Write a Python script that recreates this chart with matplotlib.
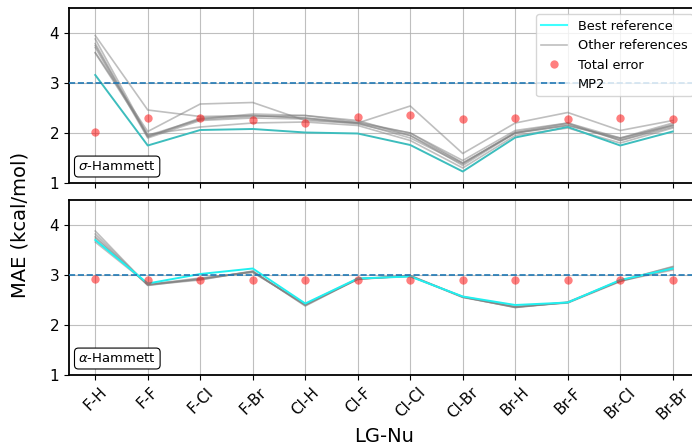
import matplotlib
matplotlib.use("Agg")
import matplotlib.pyplot as plt
from matplotlib.lines import Line2D
import numpy as np

categories = ["F-H", "F-F", "F-Cl", "F-Br", "Cl-H", "Cl-F", "Cl-Cl", "Cl-Br",
              "Br-H", "Br-F", "Br-Cl", "Br-Br"]

# sigma-Hammett panel
sigma_best = [3.16, 1.75, 2.06, 2.08, 2.01, 1.99, 1.76, 1.23, 1.91, 2.12, 1.75, 2.03]
sigma_others = [
    [3.61, 2.03, 2.58, 2.61, 2.25, 2.20, 2.54, 1.59, 2.20, 2.41, 2.05, 2.25],
    [3.95, 2.46, 2.33, 2.35, 2.30, 2.20, 2.00, 1.40, 2.00, 2.15, 1.90, 2.15],
    [3.88, 1.95, 2.28, 2.38, 2.35, 2.25, 1.95, 1.35, 2.00, 2.18, 1.85, 2.15],
    [3.79, 1.92, 2.30, 2.35, 2.30, 2.20, 1.90, 1.38, 2.02, 2.20, 1.85, 2.12],
    [3.71, 1.90, 2.25, 2.30, 2.28, 2.18, 1.95, 1.40, 2.00, 2.15, 1.88, 2.17],
    [3.60, 1.97, 2.12, 2.20, 2.22, 2.15, 1.85, 1.30, 1.95, 2.10, 1.80, 2.10],
    [3.75, 1.93, 2.27, 2.33, 2.35, 2.22, 2.00, 1.45, 2.05, 2.20, 1.90, 2.20],
]
sigma_total = [2.02, 2.30, 2.30, 2.25, 2.19, 2.32, 2.36, 2.28, 2.29, 2.28, 2.30, 2.28]

# alpha-Hammett panel
alpha_best = [3.70, 2.83, 3.02, 3.13, 2.43, 2.93, 2.97, 2.57, 2.40, 2.45, 2.90, 3.13]
alpha_others = [
    [3.88, 2.79, 2.92, 3.07, 2.40, 2.92, 2.99, 2.56, 2.35, 2.45, 2.88, 3.17],
    [3.82, 2.80, 2.90, 3.08, 2.38, 2.92, 2.98, 2.55, 2.36, 2.45, 2.88, 3.10],
    [3.77, 2.80, 2.93, 3.06, 2.41, 2.91, 2.99, 2.56, 2.35, 2.46, 2.89, 3.12],
    [3.74, 2.81, 2.94, 3.05, 2.42, 2.93, 2.97, 2.57, 2.37, 2.44, 2.87, 3.14],
    [3.66, 2.82, 2.91, 3.07, 2.39, 2.92, 2.98, 2.56, 2.36, 2.45, 2.89, 3.16],
]
alpha_total = [2.92, 2.91, 2.91, 2.90, 2.90, 2.90, 2.90, 2.90, 2.90, 2.90, 2.90, 2.90]

mp2_value = 3.0
panel_labels = [r"$\sigma$-Hammett", r"$\alpha$-Hammett"]

fig = plt.figure(figsize=(6.92, 4.44), dpi=100)
W, H = 692.0, 444.0
left = 69 / W
width = (699 - 69) / W
hgt = 175 / H
ax_top = fig.add_axes([left, 1 - 183 / H, width, hgt])
ax_bot = fig.add_axes([left, 1 - 375 / H, width, hgt])

x = np.arange(len(categories))
best_colors = ["#3dbdbd", "#20f0f0"]

for ax, best, others, total, lab, bc in [
    (ax_top, sigma_best, sigma_others, sigma_total, panel_labels[0], best_colors[0]),
    (ax_bot, alpha_best, alpha_others, alpha_total, panel_labels[1], best_colors[1]),
]:
    ax.grid(True, color="#b0b0b0", linewidth=0.8, alpha=0.8, zorder=0)
    ax.set_axisbelow(True)
    for o in others:
        ax.plot(x, o, color="grey", alpha=0.5, linewidth=1.2, zorder=2)
    ax.plot(x, best, color=bc, linewidth=1.4, zorder=3)
    ax.plot(x, total, "o", color="red", alpha=0.5, markersize=6,
            markeredgewidth=0, zorder=4)
    ax.axhline(mp2_value, color="#1f77b4", linestyle="--", linewidth=1.2, zorder=3)
    ax.set_xlim(-0.5, len(categories) - 0.5)
    ax.set_ylim(1, 4.5)
    ax.set_yticks([1, 2, 3, 4])
    ax.set_xticks(x)
    ax.tick_params(labelsize=11)
    for s in ax.spines.values():
        s.set_linewidth(1.3)
    ax.text(0.015, 0.057, lab, transform=ax.transAxes, fontsize=9.5,
            ha="left", va="bottom",
            bbox=dict(boxstyle="round,pad=0.3", facecolor="white",
                      edgecolor="black", linewidth=0.8))

ax_top.set_xticklabels([])
ax_bot.set_xticklabels(categories, rotation=45, ha="center")

handles = [
    Line2D([], [], color="cyan", alpha=0.75, linewidth=1.5),
    Line2D([], [], color="grey", alpha=0.5, linewidth=1.2),
    Line2D([], [], marker="o", linestyle="none", color="red", alpha=0.5,
           markersize=6, markeredgewidth=0),
    Line2D([], [], color="#1f77b4", linestyle="--", linewidth=1.2),
]
ax_top.legend(handles, ["Best reference", "Other references", "Total error", "MP2"],
              loc="upper right", fontsize=9.3, borderaxespad=0.5, handlelength=2.0)

fig.text(20 / W, 1 - 225 / H, "MAE (kcal/mol)", rotation=90, fontsize=14,
         ha="center", va="center")
fig.text(384 / W, 1 - 436 / H, "LG-Nu", fontsize=14, ha="center", va="center")

fig.savefig("out.png", dpi=100)
